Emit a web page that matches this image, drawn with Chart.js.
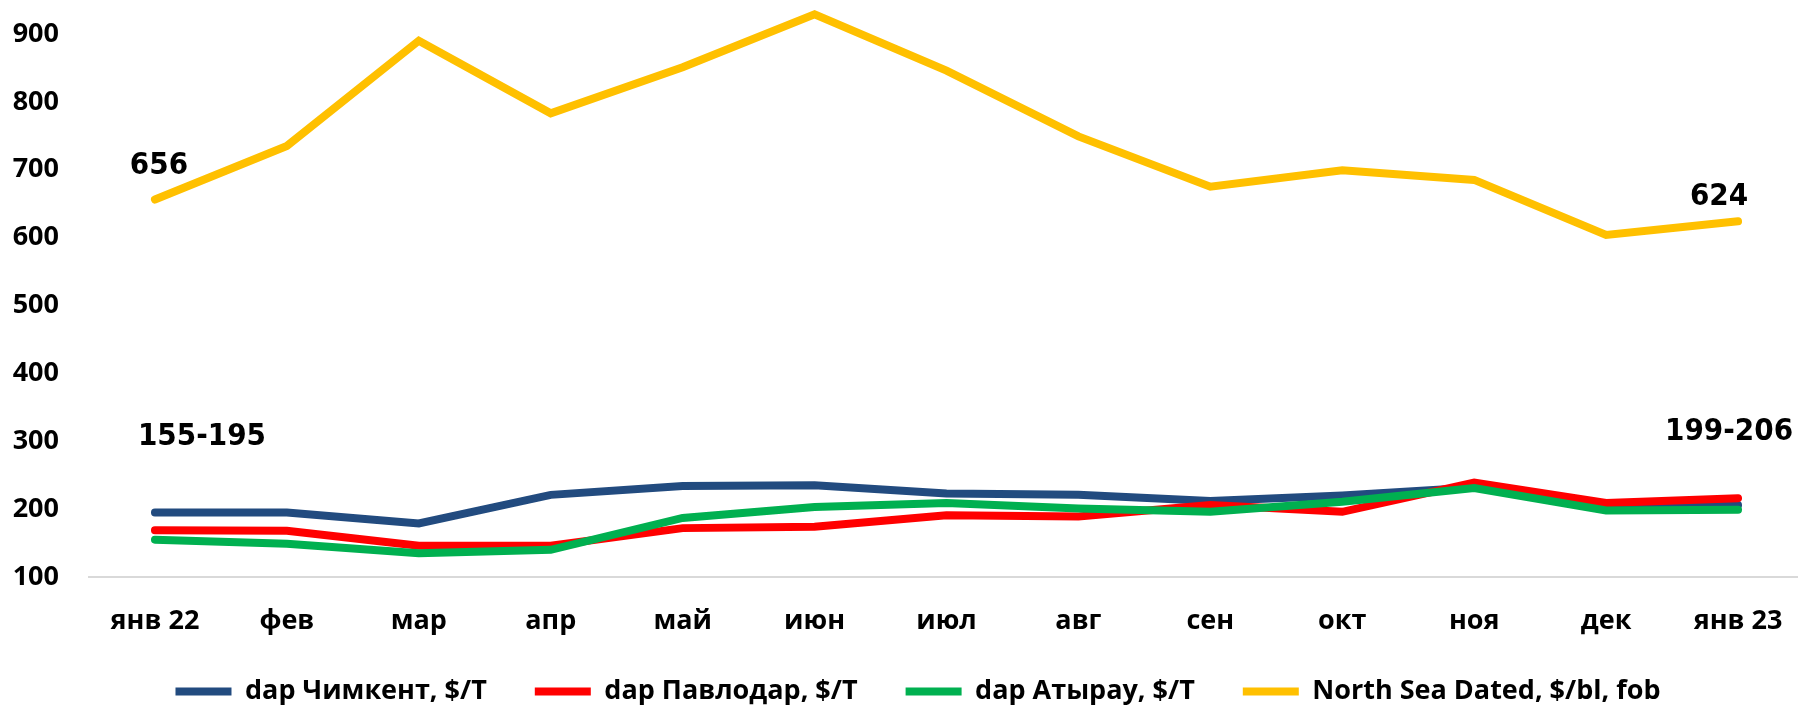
<!DOCTYPE html>
<html>
<head>
<meta charset="utf-8">
<script src="https://cdn.jsdelivr.net/npm/chart.js@4.4.1/dist/chart.umd.min.js"></script>
<style>
    html, body { margin: 0; padding: 0; background: #fff; overflow: hidden; }
    #wrap { width: 1804px; height: 705px; position: relative; }
</style>
</head>
<body>
<div id="wrap"><canvas id="price-chart"></canvas></div>
<script>
const months = ["янв 22", "фев", "мар", "апр", "май", "июн", "июл", "авг", "сен", "окт", "ноя", "дек", "янв 23"];
const shymkent = [195, 195, 179, 221, 234, 235, 223, 221, 212, 220, 232, 201, 206];
const pavlodar = [169, 168, 146, 146, 172, 174, 191, 189, 206, 196, 239, 209, 216];
const atyrau = [155, 149, 135, 140, 187, 203, 209, 201, 196, 211, 231, 198, 199];
const northSea = [656, 735, 890, 783, 851, 929, 846, 749, 675, 699, 685, 604, 624];
const yTicks = [100, 200, 300, 400, 500, 600, 700, 800, 900];

// text notes tied to a point of a series
const notes = [
    { text: "656", dataset: 3, index: 0, dx: 4, dy: -34 },
    { text: "155-195", dataset: 0, index: 0, dx: 47, dy: -76 },
    { text: "624", dataset: 3, index: 12, dx: -19, dy: -24 },
    { text: "199-206", dataset: 0, index: 12, dx: -9, dy: -73 }
];

const tickFont = { family: "'Open Sans', sans-serif", size: 27, weight: "bold" };
const LEGEND_HEIGHT = 75;

const notesPlugin = {
    id: "notes",
    afterInit(chart) {
        // keep the legend box at a fixed height, spacing comes from labels.padding
        const leg = chart.legend;
        const fit = leg.fit.bind(leg);
        leg.fit = function () {
            fit();
            this.height = LEGEND_HEIGHT;
        };
    },
    afterLayout(chart) {
        chart.legend.left += 16;
        chart.legend.right += 16;
    },
    afterDatasetsDraw(chart) {
        const ctx = chart.ctx;
        const x = chart.scales.x;
        const y = chart.scales.y;
        ctx.save();
        ctx.font = "bold 31px 'DejaVu Sans Condensed', 'DejaVu Sans', sans-serif";
        ctx.fillStyle = "#000";
        ctx.textAlign = "center";
        ctx.textBaseline = "middle";
        notes.forEach(n => {
            let v = chart.data.datasets[n.dataset].data[n.index];
            ctx.fillText(n.text, x.getPixelForValue(n.index) + n.dx, y.getPixelForValue(v) + n.dy);
        });
        ctx.restore();
    }
};

function makeSet(label, data, color, order) {
    return {
        label: label,
        data: data,
        borderColor: color,
        backgroundColor: color,
        borderWidth: 8,
        borderCapStyle: "round",
        borderJoinStyle: "miter",
        pointRadius: 0,
        pointHoverRadius: 0,
        tension: 0,
        order: order
    };
}

function drawChart() {
    const ctx = document.getElementById("price-chart");
    new Chart(ctx, {
        type: "line",
        data: {
            labels: months,
            datasets: [
                makeSet("dap Чимкент, $/T", shymkent, "#224B7F", 4),
                makeSet("dap Павлодар, $/T", pavlodar, "#FF0000", 3),
                makeSet("dap Атырау, $/T", atyrau, "#00B050", 2),
                makeSet("North Sea Dated, $/bl, fob", northSea, "#FFC000", 1)
            ]
        },
        options: {
            responsive: true,
            maintainAspectRatio: false,
            animation: false,
            layout: { autoPadding: false, padding: 0 },
            plugins: {
                tooltip: { enabled: false },
                legend: {
                    position: "bottom",
                    labels: {
                        usePointStyle: true,
                        pointStyle: "line",
                        pointStyleWidth: 56,
                        boxHeight: 8,
                        padding: 48,
                        color: "#000",
                        font: { family: "'Open Sans', sans-serif", size: 27, weight: "bold" },
                        sort: (a, b) => a.datasetIndex - b.datasetIndex
                    }
                }
            },
            scales: {
                x: {
                    offset: true,
                    grid: { display: false },
                    border: { display: true, color: "#D9D9D9", width: 2 },
                    afterFit: scale => {
                        scale.height = 53;
                        // labels hang a little below the axis box, don't cut them
                        scale._computeLabelArea = () => undefined;
                    },
                    ticks: { color: "#000", font: tickFont, padding: 20, maxRotation: 0, autoSkip: false }
                },
                y: {
                    min: 100,
                    max: 950,
                    grid: { display: false },
                    border: { display: false },
                    afterBuildTicks: scale => { scale.ticks = yTicks.map(v => ({ value: v })); },
                    afterFit: scale => {
                        scale.width = 89;
                        scale.paddingTop = 0;
                        scale.paddingBottom = 0;
                    },
                    ticks: { color: "#000", font: tickFont, padding: 22 }
                }
            }
        },
        plugins: [notesPlugin]
    });
}

drawChart();
</script>
</body>
</html>
